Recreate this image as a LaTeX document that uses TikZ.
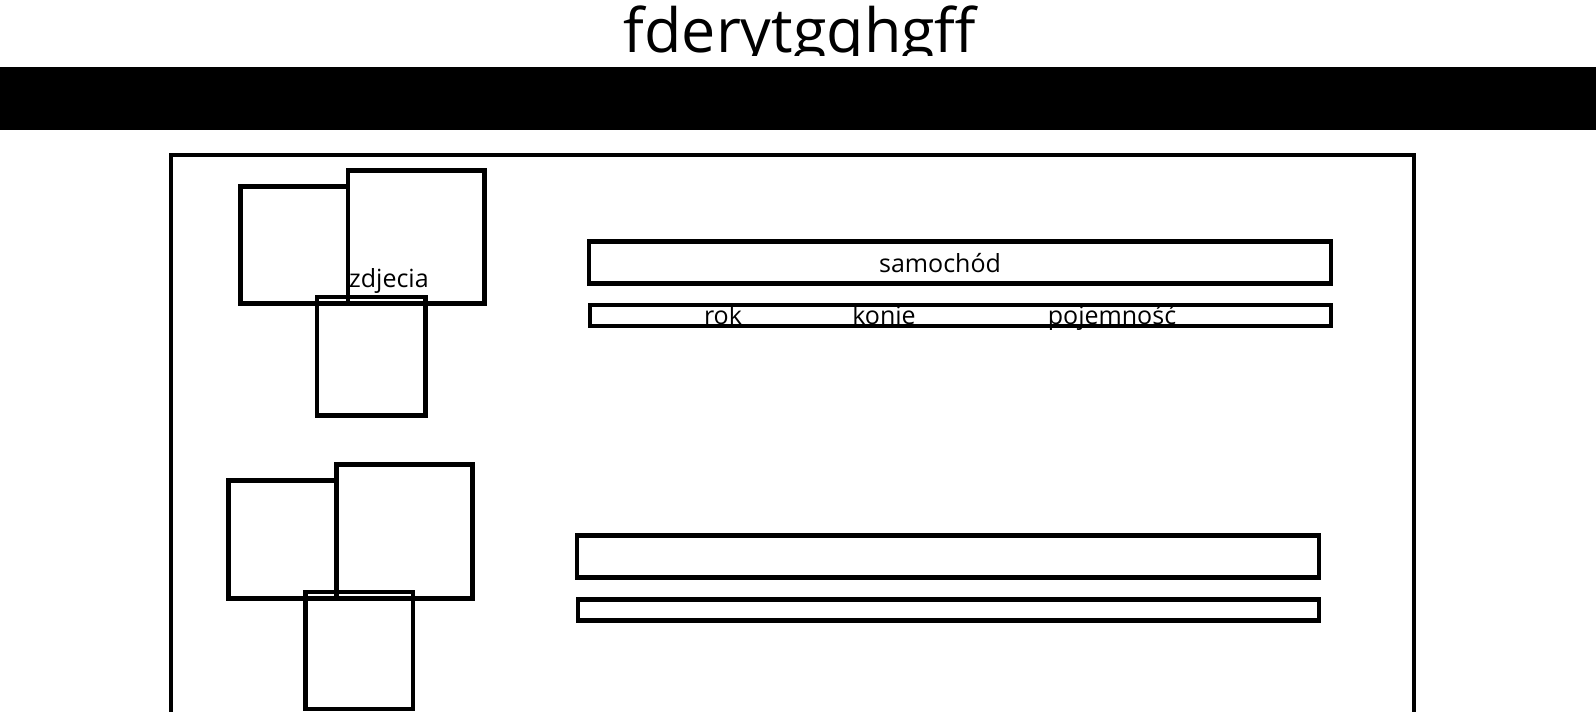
\documentclass[tikz,border=0pt]{standalone}
\usepackage{fontspec}
\setmainfont{Open Sans}
\begin{document}
\begin{tikzpicture}[x=1pt,y=-1pt,
  box/.style={draw, line width=4.4pt, inner sep=0pt, outer sep=0pt, rectangle, anchor=north west},
  lbl/.style={font=\fontsize{25}{30}\selectfont, inner sep=0pt},
  ttl/.style={font=\fontsize{61}{70}\selectfont, inner sep=0pt, anchor=base}]
\useasboundingbox (0,0) rectangle (1596,712);
\clip (0,0) rectangle (1596,712);
% title, clipped at its container
\begin{scope}
  \clip (0,0) rectangle (1596,55);
  \node[ttl] (title) at (800,52) {fderytgqhgff};
\end{scope}
% header bar
\node[fill=black, inner sep=0pt, outer sep=0pt, anchor=north west,
      minimum width=1596pt, minimum height=63pt] (header) at (0,67) {};
% frame
\node[box, minimum width=1243pt, minimum height=620pt] (frame) at (171,155) {};
% ---- first entry ----
\node[box, minimum width=107.5pt, minimum height=117pt] (p1a) at (240.5,186.5) {};
\node[box, minimum width=136.5pt, minimum height=133pt] (p1b) at (348,170.5) {};
\node[box, minimum width=108.5pt, minimum height=118.5pt] (p1c) at (317,297) {};
\node[lbl, anchor=base west] (zdj) at (349,287) {zdjecia};
\node[lbl, anchor=base] (sam) at (940,272) {samochód};
\node[box, minimum width=742pt, minimum height=42pt] (t1) at (589,241.5) {};
\node[lbl, anchor=base] (rok) at (723,324) {rok};
\node[lbl, anchor=base] (kon) at (884,324) {konie};
\node[lbl, anchor=base] (poj) at (1112,324) {pojemność};
\node[box, minimum width=741pt, minimum height=21pt] (d1) at (590,305) {};
% ---- second entry ----
\node[box, minimum width=108pt, minimum height=118pt] (p2a) at (228.3,480.5) {};
\node[box, minimum width=136pt, minimum height=134pt] (p2b) at (336.3,464.5) {};
\node[box, minimum width=107.3pt, minimum height=117pt] (p2c) at (305.5,591.7) {};
\node[box, minimum width=742pt, minimum height=42pt] (t2) at (577,535.5) {};
\node[box, minimum width=741pt, minimum height=21pt] (d2) at (578,599.5) {};
\end{tikzpicture}
\end{document}
